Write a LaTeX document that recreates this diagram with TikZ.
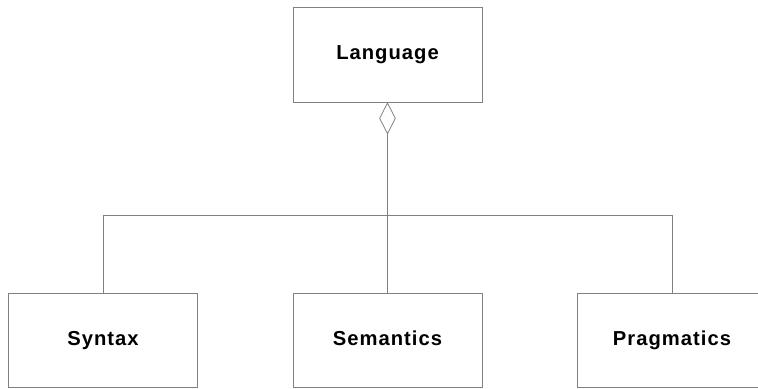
\documentclass[tikz,border=0pt]{standalone}
\usepackage{fontspec}
\setmainfont{Liberation Sans}
\newfontfamily\boxfont[LetterSpace=5]{Liberation Sans}
\usetikzlibrary{shapes.geometric}
\tikzset{
	classbox/.style={draw=black!50, line width=0.5pt, minimum width=3.78cm, minimum height=1.88cm, inner sep=0pt, text height=1.6ex, text depth=0.45ex, font=\boxfont\fontsize{11.5}{14}\selectfont\bfseries},
	link/.style={draw=black!50, line width=0.45pt}
}

\begin{document}
\begin{tikzpicture}[x=0.02cm, y=-0.02cm]
			%%%%% START %%%%%
			\useasboundingbox (0, 0) rectangle (758, 389);
			
			\node[classbox, minimum height=1.9cm] (lang) at (387.5, 54.5) {Language};
			\node[link, shape=diamond, inner sep=0pt, minimum width=0.32cm, minimum height=0.62cm, anchor=north] (agg) at (lang.south) {};
			
			\node[classbox] (syntax) at (103, 340.5) {Syntax};
			\node[classbox] (semantics) at (387.5, 340.5) {Semantics};
			\node[classbox] (pragmatics) at (672, 340.5) {Pragmatics};
			
			\coordinate (bus) at (387.5, 215);
			
			\draw[link] (agg.south) -- (agg.south |- bus);
			\draw[link] (syntax.north |- bus) -- (pragmatics.north |- bus);
			\draw[link] (syntax.north) -- (syntax.north |- bus);
			\draw[link] (semantics.north) -- (semantics.north |- bus);
			\draw[link] (pragmatics.north) -- (pragmatics.north |- bus);
			
			%%%%% END %%%%%
		\end{tikzpicture}
\end{document}
